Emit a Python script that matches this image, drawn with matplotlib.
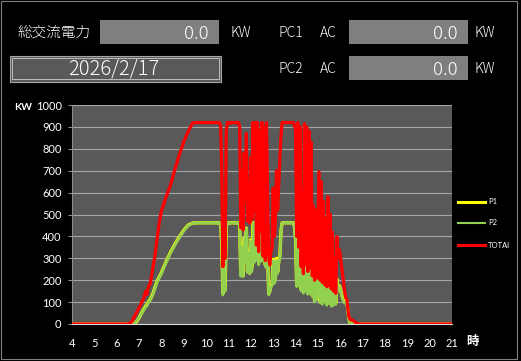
import matplotlib
matplotlib.use('Agg')
import matplotlib.pyplot as plt
from matplotlib.patches import Rectangle
from matplotlib.lines import Line2D

# hours of the day (x) and output in kW for PC1, PC2 and the total
hours = [
    4.0, 6.5, 6.6, 6.7, 6.8, 6.9, 7.0, 7.1, 7.2, 7.3,
    7.35, 7.4, 7.5, 7.6, 7.7, 7.8, 7.9, 8.0, 8.2, 8.4,
    8.6, 8.8, 9.0, 9.2, 9.4, 9.6, 9.8, 10.0, 10.2, 10.4,
    10.45, 10.50, 10.55, 10.60, 10.65, 10.70, 10.75, 10.80, 10.85, 10.90,
    10.95, 11.00, 11.05, 11.10, 11.15, 11.20, 11.25, 11.30, 11.35, 11.40,
    11.45, 11.50, 11.55, 11.60, 11.65, 11.70, 11.75, 11.80, 11.85, 11.90,
    11.95, 12.00, 12.05, 12.10, 12.15, 12.20, 12.25, 12.30, 12.35, 12.40,
    12.45, 12.50, 12.55, 12.60, 12.65, 12.70, 12.75, 12.80, 12.85, 12.90,
    12.95, 13.00, 13.05, 13.10, 13.15, 13.20, 13.25, 13.30, 13.35, 13.40,
    13.45, 13.50, 13.55, 13.60, 13.65, 13.70, 13.75, 13.80, 13.85, 13.90,
    13.95, 14.00, 14.05, 14.10, 14.15, 14.20, 14.25, 14.30, 14.35, 14.40,
    14.45, 14.50, 14.55, 14.60, 14.65, 14.70, 14.75, 14.80, 14.85, 14.90,
    14.95, 15.00, 15.05, 15.10, 15.15, 15.20, 15.25, 15.30, 15.35, 15.40,
    15.45, 15.50, 15.55, 15.60, 15.65, 15.70, 15.75, 15.80, 15.85, 15.90,
    15.95, 16.00, 16.05, 16.10, 16.15, 16.20, 16.25, 16.30, 16.35, 16.40,
    16.45, 16.55, 16.65, 16.75, 16.85, 21.0,
]

total_kw = [
    0, 0, 3, 15, 35, 55, 75, 95, 115, 150,
    135, 165, 185, 245, 305, 385, 460, 515, 578, 632,
    705, 772, 832, 880, 918, 920, 920, 920, 920, 920,
    920, 920, 918, 920, 905, 700, 262, 500, 300, 880,
    920, 920, 915, 920, 920, 920, 920, 920, 920, 918,
    920, 900, 440, 700, 430, 780, 560, 870, 470, 650,
    460, 760, 480, 920, 520, 920, 360, 920, 330, 880,
    420, 920, 310, 900, 290, 920, 600, 300, 270, 330,
    350, 620, 400, 480, 700, 520, 640, 760, 860, 920,
    920, 920, 920, 920, 920, 920, 920, 920, 920, 920,
    910, 880, 400, 920, 350, 900, 262, 600, 230, 915,
    270, 900, 240, 880, 260, 830, 220, 540, 200, 520,
    210, 450, 695, 200, 650, 190, 560, 180, 480, 170,
    581, 175, 500, 160, 420, 150, 300, 140, 399, 300,
    340, 320, 270, 230, 190, 150, 120, 110, 60, 30,
    20, 18, 10, 3, 0, 0,
]

p2_kw = [
    0, 0, 0, 0, 5, 15, 30, 45, 62, 78,
    82, 95, 108, 130, 160, 190, 210, 230, 278, 322,
    360, 395, 425, 450, 461, 462, 462, 462, 462, 462,
    462, 462, 460, 462, 452, 350, 132, 250, 150, 440,
    462, 462, 458, 462, 462, 462, 462, 462, 462, 460,
    462, 450, 218, 350, 215, 390, 280, 436, 235, 325,
    228, 380, 240, 460, 280, 460, 290, 460, 270, 440,
    285, 460, 290, 452, 260, 460, 300, 132, 145, 170,
    175, 290, 185, 200, 290, 230, 280, 300, 420, 462,
    462, 462, 462, 462, 462, 462, 462, 462, 462, 460,
    440, 380, 170, 368, 175, 340, 150, 300, 140, 360,
    150, 340, 135, 330, 140, 320, 125, 270, 100, 260,
    110, 225, 300, 95, 300, 90, 280, 100, 240, 85,
    290, 95, 250, 80, 210, 85, 150, 90, 200, 150,
    170, 160, 135, 115, 100, 95, 100, 95, 50, 15,
    0, 0, 0, 0, 0, 0,
]

p1_kw = [
    0, 0, 0, 0, 3, 12, 28, 48, 66, 82,
    88, 98, 112, 134, 164, 194, 214, 234, 282, 326,
    364, 398, 428, 452, 461, 462, 462, 462, 462, 462,
    462, 462, 460, 462, 455, 360, 140, 262, 155, 442,
    462, 462, 460, 462, 462, 462, 462, 462, 462, 460,
    462, 452, 225, 352, 222, 392, 285, 438, 240, 330,
    232, 385, 262, 462, 290, 462, 300, 462, 280, 445,
    300, 462, 310, 455, 270, 462, 305, 140, 150, 175,
    182, 295, 190, 210, 300, 238, 285, 310, 425, 462,
    462, 462, 462, 462, 462, 462, 462, 462, 462, 462,
    445, 390, 178, 372, 180, 350, 160, 305, 148, 365,
    158, 345, 140, 335, 148, 325, 130, 275, 108, 265,
    115, 230, 305, 102, 305, 98, 285, 105, 245, 92,
    295, 100, 255, 88, 215, 90, 155, 95, 205, 155,
    175, 165, 140, 120, 108, 100, 105, 100, 55, 18,
    0, 0, 0, 0, 0, 0,
]

x_ticks = list(range(4, 22))
y_ticks = list(range(0, 1001, 100))
series_names = ['P1', 'P2', 'TOTAl']
series_colors = ['#ffff00', '#92d050', '#ff0000']

W, H = 521, 361
jp = ['Noto Sans CJK JP', 'DejaVu Sans']
num_font = ['Lato', 'DejaVu Sans']


def fx(x):
    return x / W


def fy(y):
    return 1 - y / H


fig = plt.figure(figsize=(W / 100, H / 100), dpi=100, facecolor='black')

# plot area in pixels: x 72..452, y 105..324
ax = fig.add_axes([fx(72), fy(324), 380 / W, 219 / H])
ax.set_facecolor('#595959')
ax.plot(hours, p1_kw, color=series_colors[0], lw=2.4, zorder=3)
ax.plot(hours, p2_kw, color=series_colors[1], lw=1.9, zorder=4)
ax.plot(hours, total_kw, color=series_colors[2], lw=2.3, zorder=5)

ax.set_xlim(4, 21)
ax.set_ylim(0, 1000)
ax.set_xticks(x_ticks)
ax.set_yticks(y_ticks)
ax.grid(axis='y', color='#a6a6a6', lw=0.8)
ax.set_axisbelow(True)
for s in ['top', 'right']:
    ax.spines[s].set_visible(False)
ax.spines['left'].set_color('#8c8c8c')
ax.spines['bottom'].set_color('#d9d9d9')
ax.tick_params(axis='y', colors='#8c8c8c', labelcolor='white', length=3, pad=4.5,
               labelsize=8)
ax.tick_params(axis='x', length=0, pad=10, labelcolor='white', labelsize=8)
for lab in ax.get_xticklabels() + ax.get_yticklabels():
    lab.set_family(num_font)

fig.text(fx(14), fy(108), 'KW', color='white', fontsize=7.5, fontweight='bold',
         va='center', ha='left', family=num_font)
fig.text(fx(466), fy(341), '時', color='white', fontsize=9, fontweight='bold',
         va='center', ha='left', family=jp)

# legend on the right
legend_y = [202, 222.5, 245]
legend_lw = [2.2, 1.5, 2.2]
for name, col, yy, w in zip(series_names, series_colors, legend_y, legend_lw):
    fig.add_artist(Line2D([fx(458), fx(485)], [fy(yy), fy(yy)], color=col, lw=w,
                          transform=fig.transFigure))
    fig.text(fx(488), fy(yy), name, color='white', fontsize=5.5, va='center',
             ha='left', family=num_font)

# header panel
for x0, y0, x1, y1 in [(100, 20, 219, 44), (349, 20, 468, 44), (349, 56, 468, 80)]:
    fig.add_artist(Rectangle((fx(x0), fy(y1)), (x1 - x0) / W, (y1 - y0) / H,
                             transform=fig.transFigure, facecolor='#7f7f7f',
                             edgecolor='none'))
fig.add_artist(Rectangle((fx(9.5), fy(81.5)), 211.5 / W, 26 / H,
                         transform=fig.transFigure, facecolor='#595959',
                         edgecolor='#a6a6a6', lw=0.8))
fig.add_artist(Rectangle((fx(12), fy(79)), 206.5 / W, 21 / H,
                         transform=fig.transFigure, facecolor='none',
                         edgecolor='#bfbfbf', lw=0.7))

hdr = dict(color='white', va='center', family=jp, fontweight='light')
fig.text(fx(18), fy(33), '総交流電力', fontsize=10.5, ha='left', **hdr)
fig.text(fx(209), fy(34), '0.0', fontsize=13.5, ha='right', **hdr)
fig.text(fx(231), fy(33), 'KW', fontsize=10, ha='left', **hdr)
fig.text(fx(278), fy(33), 'PC1', fontsize=10, ha='left', **hdr)
fig.text(fx(320), fy(33), 'AC', fontsize=10, ha='left', **hdr)
fig.text(fx(458), fy(34), '0.0', fontsize=13.5, ha='right', **hdr)
fig.text(fx(475), fy(33), 'KW', fontsize=10, ha='left', **hdr)
fig.text(fx(114), fy(69), '2026/2/17', fontsize=14.5, ha='center', **hdr)
fig.text(fx(278), fy(69), 'PC2', fontsize=10, ha='left', **hdr)
fig.text(fx(320), fy(69), 'AC', fontsize=10, ha='left', **hdr)
fig.text(fx(458), fy(70), '0.0', fontsize=13.5, ha='right', **hdr)
fig.text(fx(475), fy(69), 'KW', fontsize=10, ha='left', **hdr)

# thin frame round the whole panel
fig.add_artist(Rectangle((fx(0.5), fy(359)), 516.5 / W, 358.5 / H,
                         transform=fig.transFigure, facecolor='none',
                         edgecolor='#7f7f7f', lw=0.8))

fig.savefig('out.png', dpi=100, facecolor='black')
